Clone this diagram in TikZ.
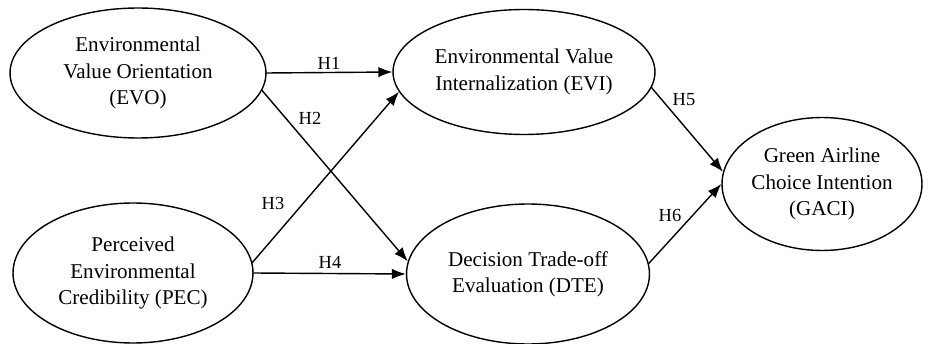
\documentclass[tikz,border=0pt]{standalone}
\usepackage{fontspec}
\setmainfont{Liberation Serif}
\usetikzlibrary{arrows.meta}
\usetikzlibrary{shapes.geometric}

\begin{document}
\begin{tikzpicture}[line cap=round,line join=round,>={Latex[length=2.8mm,width=2.1mm]},x=0.02cm,y=-0.02cm,
  construct/.style={draw,ellipse,line width=0.8pt,inner sep=0pt,align=center,font=\fontsize{12}{15}\selectfont},
  hyp/.style={font=\fontsize{10.5}{12}\selectfont,inner sep=1pt},
  path/.style={->,line width=0.8pt}]
\useasboundingbox (0,0) rectangle (937,344);
\node[construct,minimum width=5.12cm,minimum height=2.6cm] (evo) at (138,73) {Environmental\\Value Orientation\\(EVO)};
\node[construct,minimum width=4.8cm,minimum height=2.8cm] (pec) at (133,273) {Perceived\\Environmental\\Credibility (PEC)};
\node[construct,minimum width=5.24cm,minimum height=2.5cm] (evi) at (524,72) {Environmental Value\\Internalization (EVI)};
\node[construct,minimum width=4.86cm,minimum height=2.8cm] (dte) at (528,274) {Decision Trade-off\\Evaluation (DTE)};
\node[construct,minimum width=4.0cm,minimum height=2.66cm] (gaci) at (822,184) {Green Airline\\Choice Intention\\(GACI)};
\draw[path] (evo.east) -- (evi.west);
\draw[path] (evo.-8) -- (dte.174);
\draw[path] (pec.5) -- (evi.-171);
\draw[path] (pec.east) -- (dte.west);
\draw[path] (evi.-7) -- (gaci.173);
\draw[path] (dte.5) -- (gaci.west);
\node[hyp] (h1) at (329,63) {H1};
\node[hyp] (h2) at (310,118) {H2};
\node[hyp] (h3) at (273,203) {H3};
\node[hyp] (h4) at (330,262) {H4};
\node[hyp] (h5) at (684,100) {H5};
\node[hyp] (h6) at (670,215) {H6};
\end{tikzpicture}
\end{document}
